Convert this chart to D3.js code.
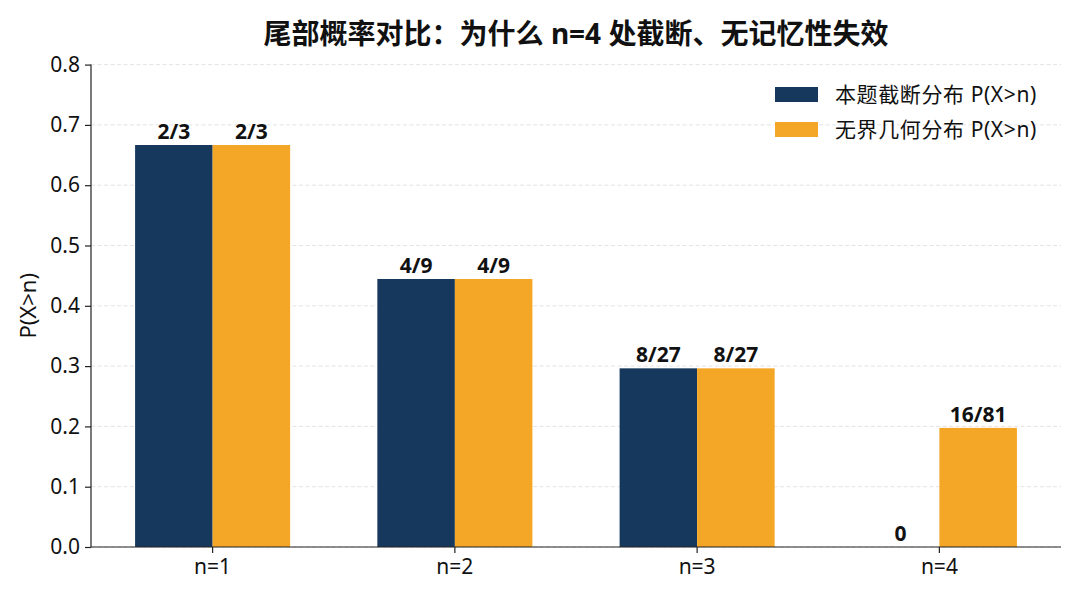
<!DOCTYPE html>
<html>
<head>
<meta charset="utf-8">
<script src="https://cdn.jsdelivr.net/npm/d3@7"></script>
<style>
  body { margin: 0; background: #fff; }
  text { font-family: "Noto Sans", "Noto Sans CJK SC", sans-serif; fill: #111; }
</style>
</head>
<body>
<script>
// data
var categories = ["n=1", "n=2", "n=3", "n=4"];
var seriesNames = ["本题截断分布 P(X>n)", "无界几何分布 P(X>n)"];
var truncValues = [2/3, 4/9, 8/27, 0];
var truncLabels = ["2/3", "4/9", "8/27", "0"];
var geoValues = [2/3, 4/9, 8/27, 16/81];
var geoLabels = ["2/3", "4/9", "8/27", "16/81"];
var yTicks = [0, 0.1, 0.2, 0.3, 0.4, 0.5, 0.6, 0.7, 0.8];
var colors = ["#15385c", "#f4a626"];

var width = 1080, height = 600;
var margin = {top: 64.6, right: 19, bottom: 53, left: 91};

var svg = d3.select("body").append("svg")
  .attr("width", width)
  .attr("height", height);

var x = d3.scaleBand()
  .domain(categories)
  .range([margin.left, width - margin.right])
  .paddingInner(0.36)
  .paddingOuter(0.182);

var xSub = d3.scaleBand()
  .domain([0, 1])
  .range([0, x.bandwidth()]);

var y = d3.scaleLinear()
  .domain([0, 0.8])
  .range([height - margin.bottom, margin.top]);

// grid
svg.append("g").selectAll("line")
  .data(yTicks)
  .enter().append("line")
  .attr("x1", margin.left)
  .attr("x2", width - margin.right)
  .attr("y1", function(d){ return y(d); })
  .attr("y2", function(d){ return y(d); })
  .style("stroke", "#dcdcdc")
  .style("stroke-width", 0.8)
  .style("stroke-dasharray", "4,2.5");

// bars
var rows = categories.map(function(c, i){
  return [
    {cat: c, s: 0, v: truncValues[i], label: truncLabels[i]},
    {cat: c, s: 1, v: geoValues[i], label: geoLabels[i]}
  ];
});

var groups = svg.append("g").selectAll("g")
  .data(rows)
  .enter().append("g")
  .attr("transform", function(d){ return "translate(" + x(d[0].cat) + ",0)"; });

groups.selectAll("rect")
  .data(function(d){ return d; })
  .enter().append("rect")
  .attr("x", function(d){ return xSub(d.s); })
  .attr("width", xSub.bandwidth())
  .attr("y", function(d){ return y(d.v); })
  .attr("height", function(d){ return y(0) - y(d.v); })
  .style("fill", function(d){ return colors[d.s]; });

groups.selectAll("text")
  .data(function(d){ return d; })
  .enter().append("text")
  .attr("x", function(d){ return xSub(d.s) + xSub.bandwidth() / 2; })
  .attr("y", function(d){ return y(d.v) - 6; })
  .attr("text-anchor", "middle")
  .style("font-size", "21px")
  .style("font-weight", "bold")
  .text(function(d){ return d.label; });

// axes
var yAxis = svg.append("g")
  .attr("transform", "translate(" + margin.left + ",0)")
  .call(d3.axisLeft(y).tickValues(yTicks).tickFormat(d3.format(".1f")).tickSize(6).tickPadding(5));

var xAxis = svg.append("g")
  .attr("transform", "translate(0," + y(0) + ")")
  .call(d3.axisBottom(x).tickSize(6).tickPadding(6));

[xAxis, yAxis].forEach(function(a){
  a.select(".domain").style("stroke", "#222").style("stroke-width", 1.2);
  a.selectAll(".tick line").style("stroke", "#222").style("stroke-width", 1.2);
  a.selectAll(".tick text").style("font-size", "21px").style("fill", "#111");
});
yAxis.select(".domain").attr("d", "M0," + y(0) + "V" + y(0.8));
xAxis.select(".domain").attr("d", "M" + margin.left + ",0H" + (width - margin.right));

// y label
svg.append("text")
  .attr("transform", "translate(36," + ((y(0) + y(0.8)) / 2) + ") rotate(-90)")
  .attr("text-anchor", "middle")
  .style("font-size", "22px")
  .text("P(X>n)");

// title
svg.append("text")
  .attr("x", (margin.left + width - margin.right) / 2)
  .attr("y", 44)
  .attr("text-anchor", "middle")
  .style("font-size", "28px")
  .style("font-weight", "bold")
  .text("尾部概率对比：为什么 n=4 处截断、无记忆性失效");

// legend
var legend = svg.append("g").selectAll("g")
  .data(seriesNames)
  .enter().append("g")
  .attr("transform", function(d, i){ return "translate(775," + (87 + i * 35) + ")"; });

legend.append("rect")
  .attr("width", 43)
  .attr("height", 15)
  .style("fill", function(d, i){ return colors[i]; });

legend.append("text")
  .attr("x", 60)
  .attr("y", 7.5)
  .attr("dy", "0.35em")
  .style("font-size", "21px")
  .style("letter-spacing", "0.6px")
  .text(function(d){ return d; });
</script>
</body>
</html>
